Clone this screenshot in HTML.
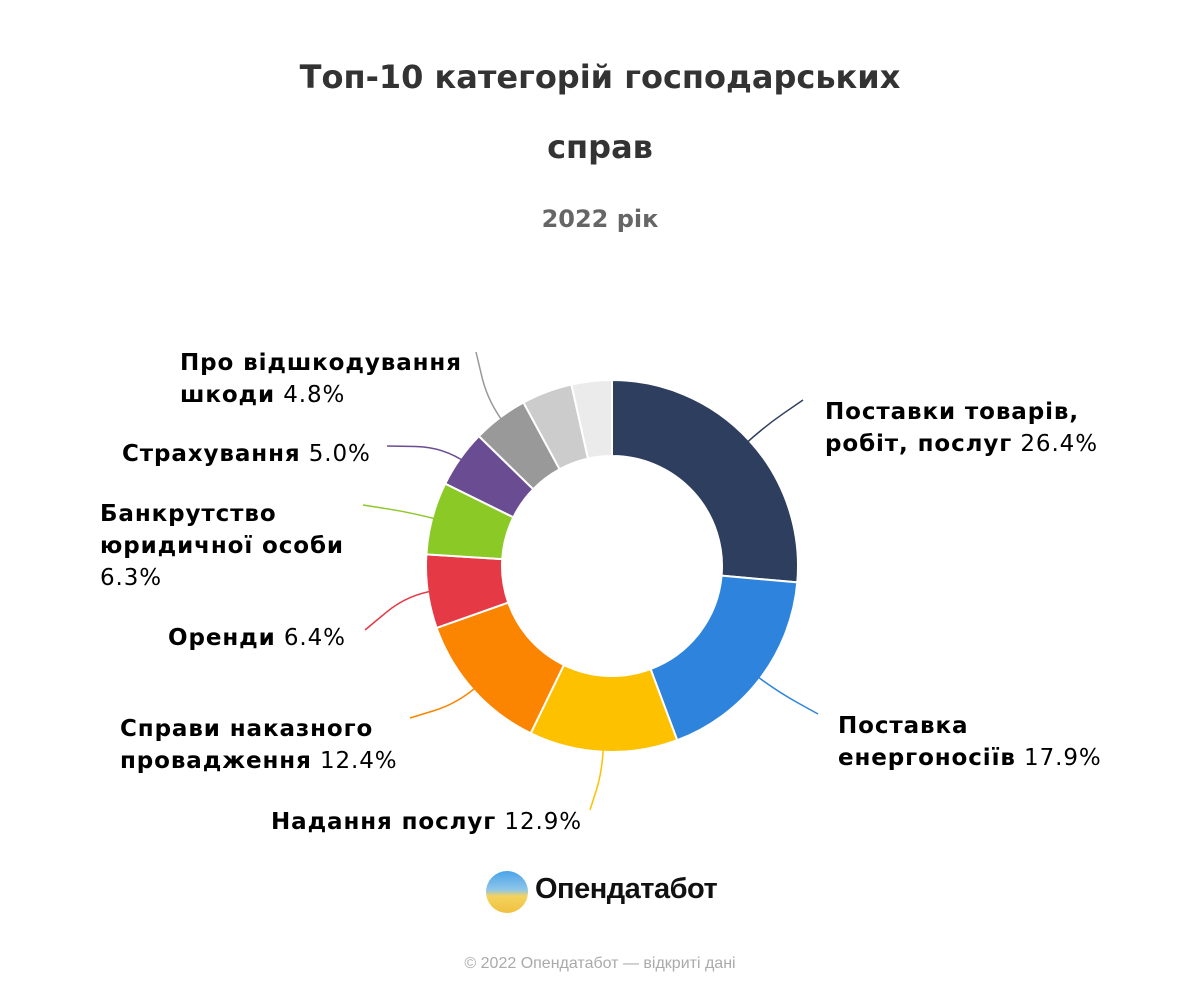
<!DOCTYPE html>
<html><head><meta charset="utf-8"><style>
body{margin:0;background:#fff;font-family:"DejaVu Sans","Liberation Sans",sans-serif;}
#wrap{position:relative;width:1200px;height:1000px;overflow:hidden}
.t{position:absolute;left:0;width:1200px;text-align:center;color:#333;font-weight:bold;font-size:32px}
.lbl{position:absolute;font-size:23px;line-height:32px;color:#000;white-space:nowrap;letter-spacing:0.9px}
.lbl b{font-weight:bold}
</style></head><body>
<div id="wrap">
<div class="t" style="top:58px">Топ-10 категорій господарських</div>
<div class="t" style="top:128px">справ</div>
<div class="t" style="top:205px;font-size:24px;color:#666">2022 рік</div>
<svg id="svg" width="1200" height="1000" style="position:absolute;left:0;top:0"></svg>
<div class="lbl" style="left:825px;top:396px"><b>Поставки товарів,</b><br><b>робіт, послуг</b> 26.4%</div>
<div class="lbl" style="left:838px;top:710px"><b>Поставка</b><br><b>енергоносіїв</b> 17.9%</div>
<div class="lbl" style="left:271px;top:806px"><b>Надання послуг</b> 12.9%</div>
<div class="lbl" style="left:120px;top:713px"><b>Справи наказного</b><br><b>провадження</b> 12.4%</div>
<div class="lbl" style="left:168px;top:622px"><b>Оренди</b> 6.4%</div>
<div class="lbl" style="left:100px;top:498px"><b>Банкрутство</b><br><b>юридичної особи</b><br>6.3%</div>
<div class="lbl" style="left:122px;top:438px"><b>Страхування</b> 5.0%</div>
<div class="lbl" style="left:180px;top:347px"><b>Про відшкодування</b><br><b>шкоди</b> 4.8%</div>
<div style="position:absolute;left:486px;top:871px;width:42px;height:42px;border-radius:50%;background:linear-gradient(180deg,#4aa3ea 0%,#8fc6e8 45%,#f4d35e 60%,#f0c040 100%)"></div>
<div style="position:absolute;left:535px;top:873px;font-size:29px;color:#111;font-family:'Liberation Sans',sans-serif;font-weight:bold;letter-spacing:-0.5px">Опендатабот</div>
<div style="position:absolute;left:0;width:1200px;top:955px;text-align:center;font-size:16px;color:#aaa;font-family:'Liberation Sans',sans-serif">© 2022 Опендатабот — відкриті дані</div>
</div>
<script>
const categories=["Поставки товарів, робіт, послуг","Поставка енергоносіїв","Надання послуг","Справи наказного провадження","Оренди","Банкрутство юридичної особи","Страхування","Про відшкодування шкоди","Інше 1","Інше 2"];
const values=[26.4,17.9,12.9,12.4,6.4,6.3,5.0,4.8,4.4,3.5];
const colors=["#2e3e5e","#2e84dc","#fdc100","#fb8500","#e63946","#8bc926","#6a4c93","#999999","#cccccc","#ebebeb"];
const leaderEnds=[[803,400],[818,714],[590,810],[410,718],[365,630],[363,505],[387,446],[476,352],null,null];
const cx=612,cy=566,R=186,r=110;
const svg=document.getElementById('svg');
const NS="http://www.w3.org/2000/svg";
const total=values.reduce((a,b)=>a+b,0);
function pt(a,rad){return [cx+rad*Math.sin(a),cy-rad*Math.cos(a)];}
let acc=0;
values.forEach((v,i)=>{
 const a0=acc/total*2*Math.PI;acc+=v;const a1=acc/total*2*Math.PI;
 const large=(a1-a0)>Math.PI?1:0;
 const p0=pt(a0,R),p1=pt(a1,R),q1=pt(a1,r),q0=pt(a0,r);
 const p=document.createElementNS(NS,'path');
 p.setAttribute('d',`M${p0[0]},${p0[1]}A${R},${R} 0 ${large} 1 ${p1[0]},${p1[1]}L${q1[0]},${q1[1]}A${r},${r} 0 ${large} 0 ${q0[0]},${q0[1]}Z`);
 p.setAttribute('fill',colors[i]);p.setAttribute('stroke','#fff');p.setAttribute('stroke-width','2');
 
 
 svg.appendChild(p);
 const e=leaderEnds[i];
 if(e){
  const am=(a0+a1)/2;const s=pt(am,R-8);const m=pt(am,R+20);
  const l=document.createElementNS(NS,'path');
  l.setAttribute('d',`M${s[0]},${s[1]}Q${m[0]},${m[1]} ${(m[0]+e[0])/2},${(m[1]+e[1])/2}T${e[0]},${e[1]}`);
  l.setAttribute('fill','none');l.setAttribute('stroke',colors[i]);l.setAttribute('stroke-width','1.5');
  
  
  svg.appendChild(l);
 }
});
</script>
</body></html>
